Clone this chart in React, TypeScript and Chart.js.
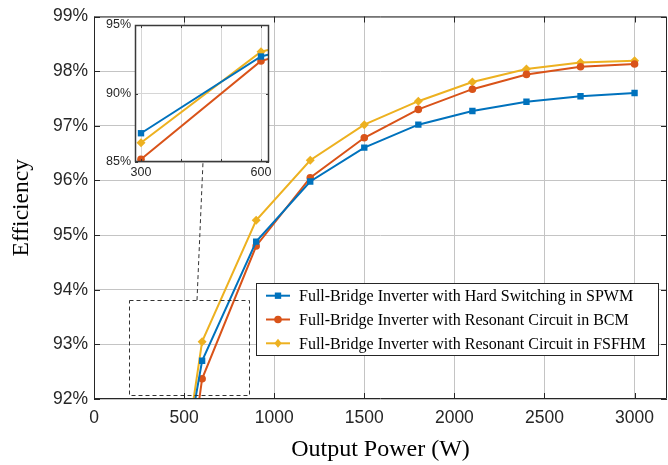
import React, { useEffect, useRef } from "react";
import { Chart, registerables } from "chart.js";

Chart.register(...registerables);

const powerW = [300, 600, 900, 1200, 1500, 1800, 2100, 2400, 2700, 3000];
const spwm = [87.1, 92.7, 94.88, 95.98, 96.6, 97.02, 97.27, 97.44, 97.54, 97.6];
const bcm = [85.2, 92.37, 94.8, 96.05, 96.78, 97.3, 97.67, 97.94, 98.08, 98.13];
const fsfhm = [86.4, 93.05, 95.27, 96.37, 97.02, 97.45, 97.8, 98.04, 98.16, 98.19];
const seriesNames = [
  "Full-Bridge Inverter with Hard Switching in SPWM",
  "Full-Bridge Inverter with Resonant Circuit in BCM",
  "Full-Bridge Inverter with Resonant Circuit in FSFHM",
];
const colors = ["#0072BD", "#D95319", "#EDB120"];
const markers = ["rect", "circle", "rectRot"];
const markerRadius = [4.5, 3.8, 4.5];
const mainTicksX = [0, 500, 1000, 1500, 2000, 2500, 3000];
const zoomBoxX = [195, 860];
const zoomBoxY = [92.08, 93.81];
const insetX = [285, 620];
const insetTicksX = [300, 400, 500, 600];
const insetLabelsX = [300, 600];

const SANS = "'Liberation Sans', Arial, sans-serif";
const SERIF = "'Liberation Serif', 'Times New Roman', serif";

function makeDatasets() {
  return [spwm, bcm, fsfhm].map((vals, i) => ({
    label: seriesNames[i],
    data: powerW.map((x, j) => ({ x, y: vals[j] })),
    borderColor: colors[i],
    backgroundColor: colors[i],
    borderWidth: 2,
    pointStyle: markers[i],
    pointRadius: markerRadius[i],
    pointBorderWidth: 0,
    tension: 0,
  }));
}

function drawMarker(ctx: CanvasRenderingContext2D, style: string, x: number, y: number, r: number) {
  ctx.beginPath();
  if (style === "rect") {
    const s = r * Math.SQRT1_2;
    ctx.rect(x - s, y - s, 2 * s, 2 * s);
  } else if (style === "circle") {
    ctx.arc(x, y, r, 0, Math.PI * 2);
  } else {
    ctx.moveTo(x, y - r);
    ctx.lineTo(x + r * 0.8, y);
    ctx.lineTo(x, y + r);
    ctx.lineTo(x - r * 0.8, y);
    ctx.closePath();
  }
  ctx.fill();
}

const framePlugin = {
  id: "frame",
  beforeDraw(chart: any, _a: any, opts: any) {
    if (!opts.fill) return;
    const { ctx, chartArea: a } = chart;
    ctx.save();
    ctx.fillStyle = opts.fill;
    ctx.fillRect(a.left, a.top, a.right - a.left, a.bottom - a.top);
    ctx.restore();
  },
  afterDraw(chart: any, _a: any, opts: any) {
    const { ctx, chartArea: a, scales } = chart;
    ctx.save();
    ctx.strokeStyle = opts.color || "#262626";
    ctx.lineWidth = opts.width || 1;
    ctx.beginPath();
    ctx.rect(a.left + 0.5, a.top + 0.5, a.right - a.left - 1, a.bottom - a.top - 1);
    ctx.stroke();
    const L = opts.tick || 5;
    ctx.lineWidth = 1;
    ctx.beginPath();
    scales.x.ticks.forEach((t: any) => {
      const px = Math.round(scales.x.getPixelForValue(t.value)) + 0.5;
      ctx.moveTo(px, a.bottom);
      ctx.lineTo(px, a.bottom - L);
      ctx.moveTo(px, a.top);
      ctx.lineTo(px, a.top + L);
    });
    scales.y.ticks.forEach((t: any) => {
      const py = Math.round(scales.y.getPixelForValue(t.value)) + 0.5;
      ctx.moveTo(a.left, py);
      ctx.lineTo(a.left + L, py);
      ctx.moveTo(a.right, py);
      ctx.lineTo(a.right - L, py);
    });
    ctx.stroke();
    ctx.restore();
  },
};

const zoomBoxPlugin = {
  id: "zoomBox",
  afterDatasetsDraw(chart: any, _a: any, opts: any) {
    const { ctx, scales } = chart;
    const x0 = scales.x.getPixelForValue(zoomBoxX[0]);
    const x1 = scales.x.getPixelForValue(zoomBoxX[1]);
    const y0 = scales.y.getPixelForValue(zoomBoxY[1]);
    const y1 = scales.y.getPixelForValue(zoomBoxY[0]);
    ctx.save();
    ctx.strokeStyle = "#333";
    ctx.lineWidth = 1;
    ctx.setLineDash([4, 3]);
    ctx.strokeRect(Math.round(x0) + 0.5, Math.round(y0) + 0.5, Math.round(x1 - x0), Math.round(y1 - y0));
    ctx.beginPath();
    ctx.moveTo(opts.fromX, y0);
    ctx.lineTo(opts.toX, opts.toY);
    ctx.stroke();
    ctx.restore();
  },
};

const legendPlugin = {
  id: "boxLegend",
  afterDraw(chart: any, _a: any, opts: any) {
    const { ctx } = chart;
    const { left, top, width, height, rowH, firstRow } = opts;
    ctx.save();
    ctx.fillStyle = "#fff";
    ctx.fillRect(left, top, width, height);
    ctx.strokeStyle = "#262626";
    ctx.lineWidth = 1;
    ctx.strokeRect(left + 0.5, top + 0.5, width, height);
    ctx.font = `16px ${SERIF}`;
    ctx.textBaseline = "middle";
    seriesNames.forEach((name, i) => {
      const y = top + firstRow + i * rowH;
      ctx.strokeStyle = colors[i];
      ctx.fillStyle = colors[i];
      ctx.lineWidth = 2;
      ctx.beginPath();
      ctx.moveTo(left + 10, y);
      ctx.lineTo(left + 34, y);
      ctx.stroke();
      drawMarker(ctx, markers[i], left + 22, y, markerRadius[i]);
      ctx.fillStyle = "#000";
      ctx.fillText(name, left + 43, y + 1);
    });
    ctx.restore();
  },
};

export default function App() {
  const mainRef = useRef<HTMLCanvasElement>(null);
  const insetRef = useRef<HTMLCanvasElement>(null);

  useEffect(() => {
    const main = new Chart(mainRef.current!, {
      type: "line",
      data: { datasets: makeDatasets() as any },
      plugins: [framePlugin, zoomBoxPlugin, legendPlugin],
      options: {
        animation: false,
        responsive: false,
        devicePixelRatio: 1,
        layout: { autoPadding: false, padding: { top: 14, right: 1, left: 0, bottom: 0 } },
        plugins: {
          legend: { display: false },
          tooltip: { enabled: false },
          frame: { color: "#262626", width: 1, tick: 6 },
          zoomBox: { fromX: 197, toX: 203, toY: 162 },
          boxLegend: { left: 256, top: 283, width: 402, height: 72, rowH: 23.8, firstRow: 12.7 },
        } as any,
        scales: {
          x: {
            type: "linear",
            min: 0,
            max: 3180,
            afterFit: (s: any) => { s.height = 66; s.paddingRight = 0; s.paddingLeft = 0; },
            afterBuildTicks: (s: any) => { s.ticks = mainTicksX.map((v) => ({ value: v })); },
            ticks: { autoSkip: false, color: "#262626", font: { family: SANS, size: 17.5 }, padding: 9, maxRotation: 0, callback: (v: any) => String(v) },
            grid: { color: "#c4c4c4", drawTicks: false },
            border: { display: false },
            title: { display: true, text: "Output Power (W)", color: "#000", font: { family: SERIF, size: 24 }, padding: { top: 0, bottom: 1 } },
          },
          y: {
            type: "linear",
            min: 92,
            max: 99,
            afterFit: (s: any) => { s.width = 94; },
            ticks: { stepSize: 1, color: "#262626", font: { family: SANS, size: 17.5 }, padding: 6, callback: (v: any) => `${v}%` },
            grid: { color: "#c4c4c4", drawTicks: false },
            border: { display: false },
            title: { display: true, text: "Efficiency", color: "#000", font: { family: SERIF, size: 23.5 }, padding: { top: 8, bottom: 0 } },
          },
        },
      },
    });

    const inset = new Chart(insetRef.current!, {
      type: "line",
      data: { datasets: makeDatasets() as any },
      plugins: [framePlugin],
      options: {
        animation: false,
        responsive: false,
        devicePixelRatio: 1,
        layout: { autoPadding: false, padding: { top: 17, right: 11, left: 0, bottom: 0 } },
        plugins: {
          legend: { display: false },
          tooltip: { enabled: false },
          frame: { color: "#3a3a3a", width: 1.5, tick: 3, fill: "#fff" },
        } as any,
        scales: {
          x: {
            type: "linear",
            min: insetX[0],
            max: insetX[1],
            afterFit: (s: any) => { s.height = 26; s.paddingRight = 0; s.paddingLeft = 0; },
            afterBuildTicks: (s: any) => { s.ticks = insetTicksX.map((v) => ({ value: v })); },
            ticks: {
              autoSkip: false,
              maxRotation: 0,
              color: "#262626",
              font: { family: SANS, size: 12.5 },
              padding: 3,
              callback: (v: any) => (insetLabelsX.includes(v) ? String(v) : ""),
            },
            grid: { color: "#d6d6d6", drawTicks: false },
            border: { display: false },
          },
          y: {
            type: "linear",
            min: 85,
            max: 95,
            afterFit: (s: any) => { s.width = 35; },
            ticks: { stepSize: 5, color: "#262626", font: { family: SANS, size: 12.5 }, padding: 4, callback: (v: any) => `${v}%` },
            grid: { color: "#d6d6d6", drawTicks: false },
            border: { display: false },
          },
        },
      },
    });

    return () => {
      main.destroy();
      inset.destroy();
    };
  }, []);

  return (
    <div style={{ position: "absolute", left: 0, top: 0, width: 668, height: 465, background: "#fff" }}>
      <canvas ref={mainRef} width={668} height={465} style={{ position: "absolute", left: 0, top: 0 }} />
      <canvas ref={insetRef} width={180} height={180} style={{ position: "absolute", left: 100, top: 8 }} />
    </div>
  );
}
